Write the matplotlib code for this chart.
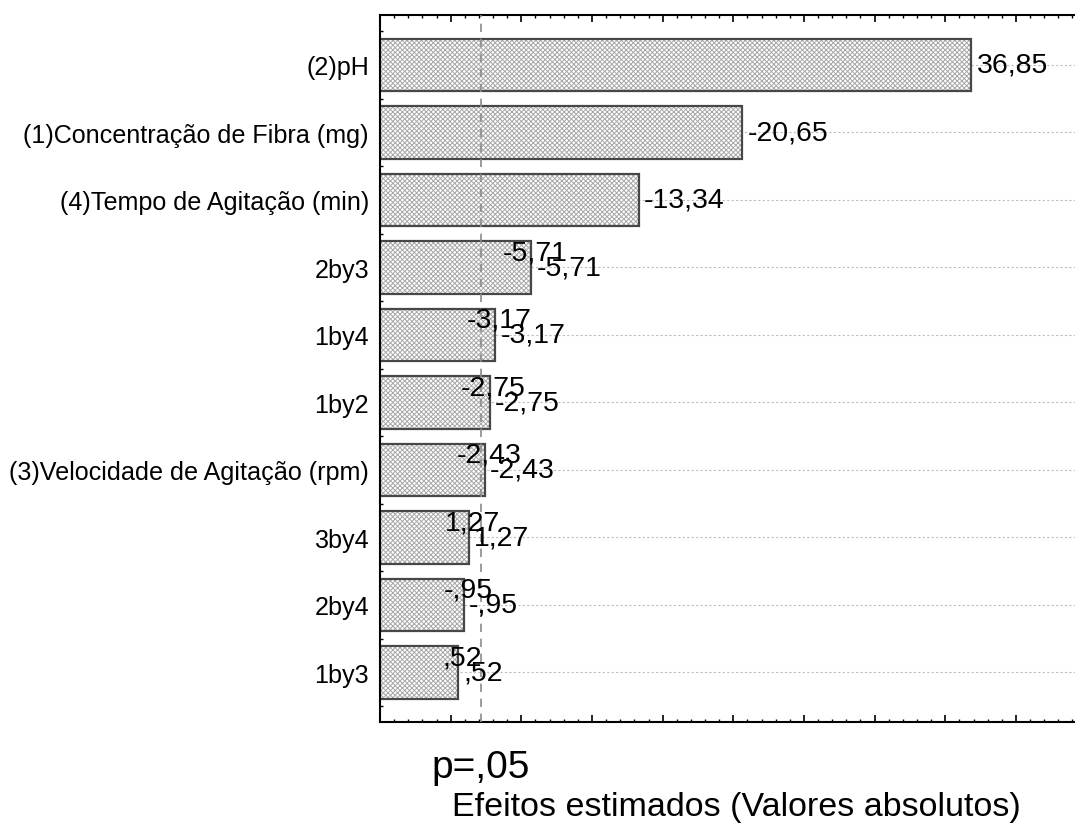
import matplotlib
matplotlib.use("Agg")
import matplotlib.pyplot as plt
from matplotlib.ticker import MultipleLocator, NullFormatter

plt.rcParams['font.family'] = ['Liberation Sans', 'DejaVu Sans']
plt.rcParams['hatch.linewidth'] = 0.7

# Pareto chart of standardized effects
factors = [
    "(2)pH",
    "(1)Concentração de Fibra (mg)",
    "(4)Tempo de Agitação (min)",
    "2by3",
    "1by4",
    "1by2",
    "(3)Velocidade de Agitação (rpm)",
    "3by4",
    "2by4",
    "1by3",
]
effects = [36.85, -20.65, -13.34, -5.71, -3.17, -2.75, -2.43, 1.27, -0.95, 0.52]
p_limit = 2.12
p_label = "p=,05"
x_label = "Efeitos estimados (Valores absolutos)"
x_range = (-5, 45)


def fmt(v):
    s = f"{v:.2f}".replace(".", ",")
    if s.startswith("0,"):
        s = s[1:]
    elif s.startswith("-0,"):
        s = "-" + s[2:]
    return s


W, H = 1075, 829
fig = plt.figure(figsize=(W / 100, H / 100), dpi=100)
left_px, right_px, top_px, bottom_px = 380, 1086.6, 16, 723
ax = fig.add_axes([left_px / W, 1 - bottom_px / H,
                   (right_px - left_px) / W, (bottom_px - top_px) / H])

ypos = list(range(len(factors)))
xmin = x_range[0]
ax.set_xlim(*x_range)
ax.set_ylim(len(factors) - 1 + 0.735, -0.74)

# dotted guide lines at each factor
for y in ypos:
    ax.axhline(y, color='#bdbdbd', lw=0.8, ls=(0, (2, 2)), zorder=0)

widths = [abs(v) - xmin for v in effects]
# hatched fill, then a dark outline on top
ax.barh(ypos, widths, left=xmin, height=0.78, facecolor='white',
        edgecolor='#a8a8a8', linewidth=0, hatch='xxxxxxx', zorder=2)
ax.barh(ypos, widths, left=xmin, height=0.78, facecolor='none',
        edgecolor='#474747', linewidth=1.6, zorder=2.5)

# significance limit
ax.axvline(p_limit, color='#8a8a8a', lw=1.2, ls=(0, (5, 4)), zorder=3)

for i, (y, v) in enumerate(zip(ypos, effects)):
    end = abs(v)
    ax.annotate(fmt(v), (end, y), xytext=(5, 0), textcoords='offset pixels',
                ha='left', va='center', fontsize=20.5, zorder=4)
    if i >= 3:
        ax.annotate(fmt(v), (end, y), xytext=(4, 15), textcoords='offset pixels',
                    ha='center', va='center', fontsize=20.5, zorder=4)

ax.set_yticks(ypos)
ax.set_yticklabels(factors, fontsize=18.1)
ax.yaxis.set_minor_locator(MultipleLocator(0.25))
ax.xaxis.set_major_locator(MultipleLocator(5))
ax.xaxis.set_minor_locator(MultipleLocator(1))
ax.xaxis.set_major_formatter(NullFormatter())
ax.tick_params(axis='both', which='both', direction='in', top=True, right=True,
               color='black')
ax.tick_params(axis='both', which='major', length=5, width=1.2)
ax.tick_params(axis='both', which='minor', length=2.5, width=1.0)
ax.tick_params(axis='y', which='major', pad=8)

for s in ax.spines.values():
    s.set_linewidth(1.5)
    s.set_color('black')

fig.text(481 / W, 1 - 768 / H, p_label, ha='center', va='center', fontsize=28)
fig.text(736 / W, 1 - 808 / H, x_label, ha='center', va='center', fontsize=24.5)

fig.savefig("out.png", dpi=100)
